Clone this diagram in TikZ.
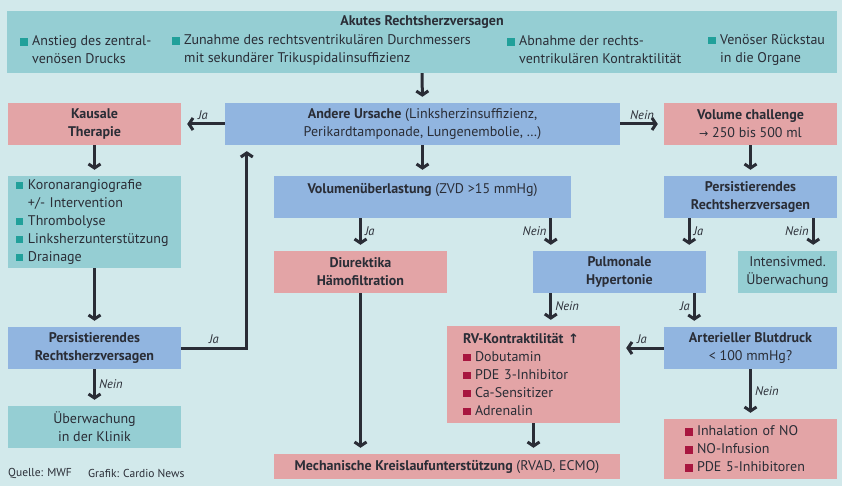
\documentclass[tikz,border=0pt]{standalone}
\usepackage{fontspec}
\setmainfont{PT Sans}
\newfontfamily\symfont{DejaVu Sans}
\usepackage{xcolor}
\usetikzlibrary{arrows.meta,calc}

\definecolor{bg}{HTML}{D2E9EB}
\definecolor{tealbox}{HTML}{95CED3}
\definecolor{bluebox}{HTML}{91B5E0}
\definecolor{pinkbox}{HTML}{E3A4A6}
\definecolor{tealbul}{HTML}{21A09A}
\definecolor{redbul}{HTML}{A8163F}
\definecolor{ink}{HTML}{2A2D36}

\newcommand\tbul{\textcolor{tealbul}{\rule{7.5pt}{7.5pt}}\hspace{4.5pt}}
\newcommand\rbul{\textcolor{redbul}{\rule{7.5pt}{7.5pt}}\hspace{4.5pt}}
\newcommand\hang{\hspace*{12pt}}

\begin{document}
\begin{tikzpicture}[x=1pt,y=-1pt,font=\fontsize{14}{18}\selectfont,text=ink,
    basebox/.style={inner sep=0pt,align=center,minimum width=173pt,minimum height=42pt},
    tealnode/.style={basebox,fill=tealbox},
    bluenode/.style={basebox,fill=bluebox},
    pinknode/.style={basebox,fill=pinkbox},
    arr/.style={draw=ink,line width=3pt,-{Straight Barb[length=4pt,width=12pt]},shorten >=6pt},
    lab/.style={font=\fontsize{12.5}{14}\selectfont\itshape,text=ink,inner sep=3pt}]
                \fill[bg] (0,0) rectangle (842,486);
                \useasboundingbox (0,0) rectangle (842,486);

                \node[tealnode,minimum width=830pt,minimum height=62pt] (top) at (422,42) {};
                \node[font=\fontsize{14}{18}\selectfont\bfseries] (title) at (422,22) {Akutes Rechtsherzversagen};
                \node[anchor=west,align=left,inner sep=0pt] (s1) at (20,50) {\tbul Anstieg des zentral-\\\hang ven\"osen Drucks};
                \node[anchor=west,align=left,inner sep=0pt] (s2) at (172,50) {\tbul Zunahme des rechtsventrikul\"aren Durchmessers\\\hang mit sekund\"arer Trikuspidalinsuffizienz};
                \node[anchor=west,align=left,inner sep=0pt] (s3) at (507,50) {\tbul Abnahme der rechts-\\\hang ventrikul\"aren Kontraktilit\"at};
                \node[anchor=west,align=left,inner sep=0pt] (s4) at (708,50) {\tbul Ven\"oser R\"uckstau\\\hang in die Organe};

                \node[bluenode,minimum width=395pt] (andere) at (422.5,124) {\textbf{Andere Ursache} (Linksherzinsuffizienz,\\Perikardtamponade, Lungenembolie, …)};
                \node[pinknode] (kausal) at (94.5,124) {\textbf{Kausale}\\\textbf{Therapie}};
                \node[pinknode] (volch) at (750.5,124) {\textbf{Volume challenge}\\{\symfont\fontsize{11}{18}\selectfont →} 250 bis 500 ml};

                \node[tealnode,align=left,text width=157pt,inner xsep=8pt,minimum height=92pt] (liste) at (94.5,222) {\tbul Koronarangiografie\\\hang +/- Intervention\\\tbul Thrombolyse\\\tbul Linksherzunterst\"utzung\\\tbul Drainage};
                \node[bluenode,minimum width=297pt] (volu) at (422.5,197) {\textbf{Volumen\"uberlastung} (ZVD >15 mmHg)\\\mbox{}};
                \node[bluenode] (persr) at (750.5,197) {\textbf{Persistierendes}\\\textbf{Rechtsherzversagen}};

                \node[pinknode] (diur) at (360.5,272) {\textbf{Diurektika}\\\textbf{H\"amofiltration}};
                \node[bluenode] (pulm) at (619.5,272) {\textbf{Pulmonale}\\\textbf{Hypertonie}};
                \node[tealnode,minimum width=99pt] (intens) at (787.5,272) {Intensivmed.\\\"Uberwachung};

                \node[bluenode] (persl) at (94.5,348) {\textbf{Persistierendes}\\\textbf{Rechtsherzversagen}};
                \node[pinknode,align=left,text width=141pt,inner xsep=16pt,minimum height=97pt] (rv) at (533.5,374.5) {\textbf{RV-Kontraktilit\"at} {\symfont\bfseries\fontsize{13}{18}\selectfont ↑}\\\rbul Dobutamin\\\rbul PDE 3-Inhibitor\\\rbul Ca-Sensitizer\\\rbul Adrenalin};
                \node[bluenode] (artl) at (750.5,348) {\textbf{Arterieller Blutdruck}\\< 100 mmHg?};

                \node[tealnode] (ueberw) at (94.5,427) {\"Uberwachung\\in der Klinik};
                \node[pinknode,align=left,text width=131pt,inner xsep=21pt,minimum height=60pt] (inhal) at (750.5,449) {\rbul Inhalation of NO\\\rbul NO-Infusion\\\rbul PDE 5-Inhibitoren};
                \node[pinknode,minimum width=346pt,minimum height=25pt] (mech) at (447,466.5) {\textbf{Mechanische Kreislaufunterst\"utzung} (RVAD, ECMO)};

                \node[anchor=west,inner sep=0pt,font=\fontsize{11.5}{12}\selectfont] (quelle) at (8,473) {Quelle: MWF};
                \node[anchor=west,inner sep=0pt,font=\fontsize{11.5}{12}\selectfont] (grafik) at (88,473) {Grafik: Cardio News};

                \coordinate (c1) at ([xshift=18pt]pulm.north west);
                \coordinate (c2) at ([xshift=-17pt]pulm.north east);
                \coordinate (c3) at ([xshift=-12pt]pulm.south east);
                \coordinate (c4) at ([xshift=-24pt]intens.north east);
                \coordinate (c5) at ([xshift=22pt]andere.south west);

                \draw[arr] (top.south) -- (andere.north);
                \draw[arr] (andere.west) -- (kausal.east) node[lab,midway,above] {Ja};
                \draw[arr] (andere.east) -- (volch.west) node[lab,midway,above] {Nein};
                \draw[arr] (kausal.south) -- (liste.north);
                \draw[arr] (liste.south) -- (persl.north);
                \draw[arr] (persl.east) -| (c5) node[lab,pos=0.25,above] {Ja};
                \draw[arr] (persl.south) -- (ueberw.north) node[lab,pos=0.4,right] {Nein};
                \draw[arr] (andere.south) -- (volu.north);
                \draw[arr] (volch.south) -- (persr.north);
                \draw[arr] (diur.north |- volu.south) -- (diur.north) node[lab,pos=0.4,right] {Ja};
                \draw[arr] (volu.south -| c1) -- (c1) node[lab,pos=0.4,left] {Nein};
                \draw[arr] (c2 |- persr.south) -- (c2) node[lab,pos=0.4,right] {Ja};
                \draw[arr] (c4 |- persr.south) -- (c4) node[lab,pos=0.4,left] {Nein};
                \draw[arr] (c1 |- pulm.south) -- (c1 |- rv.north) node[lab,pos=0.4,right] {Nein};
                \draw[arr] (c3) -- (c3 |- artl.north) node[lab,pos=0.4,left] {Ja};
                \draw[arr] (artl.west) -- (artl.west -| rv.east) node[lab,midway,above] {Ja};
                \draw[arr] (artl.south) -- (inhal.north) node[lab,pos=0.45,right] {Nein};
                \draw[arr] (diur.south) -- (diur.south |- mech.north);
                \draw[arr] (rv.south) -- (rv.south |- mech.north);
            \end{tikzpicture}
\end{document}
